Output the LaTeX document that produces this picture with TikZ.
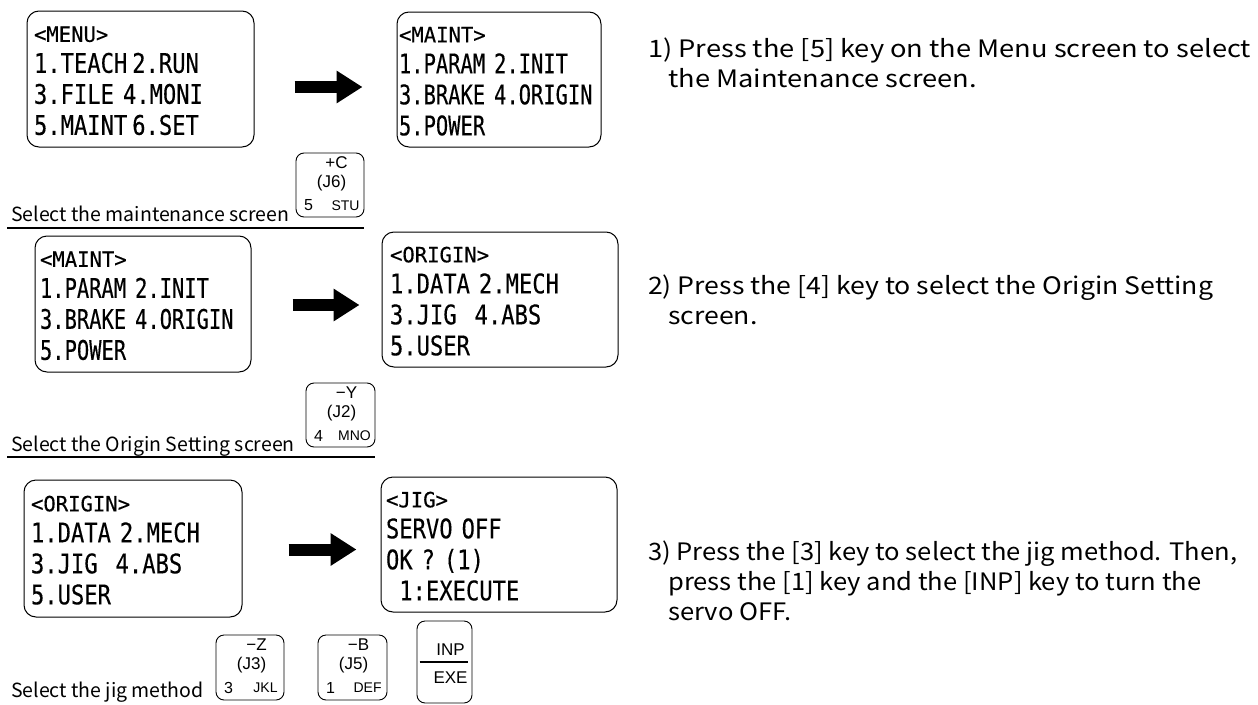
\documentclass[tikz,border=0pt]{standalone}
\usepackage{fontspec}
\setmainfont{Noto Sans CJK JP}
\newfontfamily\lcdfont[FakeStretch=0.757,FakeBold=0.3]{DejaVu Sans Mono}
\newfontfamily\lcdwfont[FakeStretch=0.82,FakeBold=0.3]{DejaVu Sans Mono}
\newfontfamily\lcdhfont[FakeStretch=0.98,FakeBold=0.3]{DejaVu Sans Mono}
\newfontfamily\keyfont{Liberation Sans}
\newfontfamily\txtfont{Noto Sans CJK JP}
\newfontfamily\descAfont[FakeStretch=1.135]{Noto Sans CJK JP}
\newfontfamily\descBfont[FakeStretch=1.11]{Noto Sans CJK JP}
\newfontfamily\descCfont[FakeStretch=1.065]{Noto Sans CJK JP}
\usetikzlibrary{arrows.meta,calc}
\newcommand\lcdsize{\fontsize{27}{31}\selectfont}
\newcommand\hd[1]{\rule{0pt}{19pt}{\lcdhfont\fontsize{21}{31}\selectfont #1}}
\begin{document}
\begin{tikzpicture}[x=1pt,y=-1pt,
  screen/.style={draw, line width=1pt, rounded corners=12pt, inner ysep=0pt, align=left, font=\lcdfont\lcdsize},
  wscreen/.style={screen, font=\lcdwfont\lcdsize},
  keybox/.style={draw, line width=0.9pt, rounded corners=8pt, inner sep=0pt},
  klab/.style={inner sep=0pt, font=\keyfont\fontsize{17}{17}\selectfont},
  knum/.style={inner sep=0pt, font=\keyfont\fontsize{16}{16}\selectfont},
  ksmall/.style={inner sep=0pt, font=\keyfont\fontsize{14}{14}\selectfont},
  bigarrow/.style={line width=12pt, -{Triangle[length=26pt,width=31pt]}},
  caption/.style={anchor=base west, inner sep=0pt, font=\txtfont\fontsize{19.5}{19.5}\selectfont},
  uline/.style={line width=1.8pt},
  desc/.style={anchor=base west, inner sep=0pt, align=left}
]
\useasboundingbox (0,0) rectangle (1258,704);

% ---------- row 1 ----------
\node[wscreen, minimum width=227pt, minimum height=136pt, text width=213pt, inner xsep=7pt] (menu) at (140.5,79)
  {\hd{<MENU>}\\1.TEACH\kern5pt 2.RUN\\3.FILE 4.MONI\\5.MAINT\kern5pt 6.SET};
\node[screen, minimum width=204pt, minimum height=135pt, text width=200pt, inner xsep=2pt] (maint1) at (499,79.5)
  {\hd{<MAINT>}\\1.PARAM 2.INIT\\3.BRAKE 4.ORIGIN\\5.POWER};
\draw[bigarrow] ([xshift=40pt,yshift=-8pt]menu.east) -- ([xshift=-34pt,yshift=-8pt]menu.east -| maint1.west);

\node[keybox, minimum width=68pt, minimum height=64pt] (keyC) at (330,185) {};
\node[klab] (keyCa) at ($(keyC.north west)+(41,10)$) {+C};
\node[klab] (keyCb) at ($(keyC.north west)+(36,31)$) {(J6)};
\node[knum] (keyCc) at ($(keyC.north west)+(13,53)$) {5};
\node[ksmall] (keyCd) at ($(keyC.north west)+(50,53)$) {STU};

\node[caption] (cap1) at (11,221) {Select the maintenance screen};
\coordinate (u1) at (7,228);
\draw[uline] (u1) -- (u1 -| keyC.east);

\node[desc, font=\descAfont\fontsize{24}{30}\selectfont] (t1) at (648,87) {1) Press the [5] key on the Menu screen to select\\\hspace*{20pt}the Maintenance screen.};

% ---------- row 2 ----------
\node[screen, minimum width=216pt, minimum height=136pt, text width=206pt, inner xsep=5pt] (maint2) at (143,304)
  {\hd{<MAINT>}\\1.PARAM 2.INIT\\3.BRAKE 4.ORIGIN\\5.POWER};
\node[wscreen, minimum width=236pt, minimum height=135pt, text width=220pt, inner xsep=8pt] (origin1) at (500,299.5)
  {\hd{<ORIGIN>}\\1.DATA 2.MECH\\3.JIG\ \ 4.ABS\\5.USER};
\coordinate (a2) at ([xshift=41pt,yshift=-1pt]maint2.east);
\draw[bigarrow] (a2) -- ($(a2 -| origin1.west)+(-22,0)$);

\node[keybox, minimum width=69pt, minimum height=64pt] (keyY) at (340.5,415) {};
\node[klab] (keyYa) at ($(keyY.north west)+(41,10)$) {−Y};
\node[klab] (keyYb) at ($(keyY.north west)+(36,31)$) {(J2)};
\node[knum] (keyYc) at ($(keyY.north west)+(13,53)$) {4};
\node[ksmall] (keyYd) at ($(keyY.north west)+(49,53)$) {MNO};

\node[caption] (cap2) at (11,451) {Select the Origin Setting screen};
\coordinate (u2) at (7,457);
\draw[uline] (u2) -- (u2 -| keyY.east);

\node[desc, font=\descBfont\fontsize{24}{30}\selectfont] (t2) at (648,324) {2) Press the [4] key to select the Origin Setting\\\hspace*{20pt}screen.};

% ---------- row 3 ----------
\node[wscreen, minimum width=218pt, minimum height=137pt, text width=204pt, inner xsep=7pt] (origin2) at (133,548.5)
  {\hd{<ORIGIN>}\\1.DATA 2.MECH\\3.JIG\ \ 4.ABS\\5.USER};
\node[wscreen, minimum width=236pt, minimum height=135pt, text width=226pt, inner xsep=5pt] (jig) at (499,544.5)
  {\hd{<JIG>}\\SERVO OFF\\OK ? (1)\\\hphantom{0}1:EXECUTE};
\coordinate (a3) at ([xshift=46pt,yshift=-1pt]origin2.east);
\draw[bigarrow] (a3) -- ($(a3 -| jig.west)+(-24,0)$);

\node[keybox, minimum width=68pt, minimum height=65pt] (keyZ) at (250,667.5) {};
\node[klab] (keyZa) at ($(keyZ.north west)+(41,10)$) {−Z};
\node[klab] (keyZb) at ($(keyZ.north west)+(36,31)$) {(J3)};
\node[knum] (keyZc) at ($(keyZ.north west)+(13,53)$) {3};
\node[ksmall] (keyZd) at ($(keyZ.north west)+(50,53)$) {JKL};

\node[keybox, minimum width=69pt, minimum height=65pt] (keyB) at (352.5,667.5) {};
\node[klab] (keyBa) at ($(keyB.north west)+(41,10)$) {−B};
\node[klab] (keyBb) at ($(keyB.north west)+(36,31)$) {(J5)};
\node[knum] (keyBc) at ($(keyB.north west)+(13,53)$) {1};
\node[ksmall] (keyBd) at ($(keyB.north west)+(50,53)$) {DEF};

\node[keybox, minimum width=55pt, minimum height=82pt] (keyI) at (444.5,662) {};
\node[klab] (keyIa) at ($(keyI.north west)+(34,29)$) {INP};
\node[klab] (keyIb) at ($(keyI.north west)+(34,57)$) {EXE};
\draw[line width=1.5pt] ([xshift=3pt]keyI.west) -- ([xshift=-4pt]keyI.east);

\node[caption] (cap3) at (11,697) {Select the jig method};

\node[desc, font=\descCfont\fontsize{24}{30}\selectfont] (t3) at (648,620) {3) Press the [3] key to select the jig method. Then,\\\hspace*{20pt}press the [1] key and the [INP] key to turn the\\\hspace*{20pt}servo OFF.};
\end{tikzpicture}
\end{document}
